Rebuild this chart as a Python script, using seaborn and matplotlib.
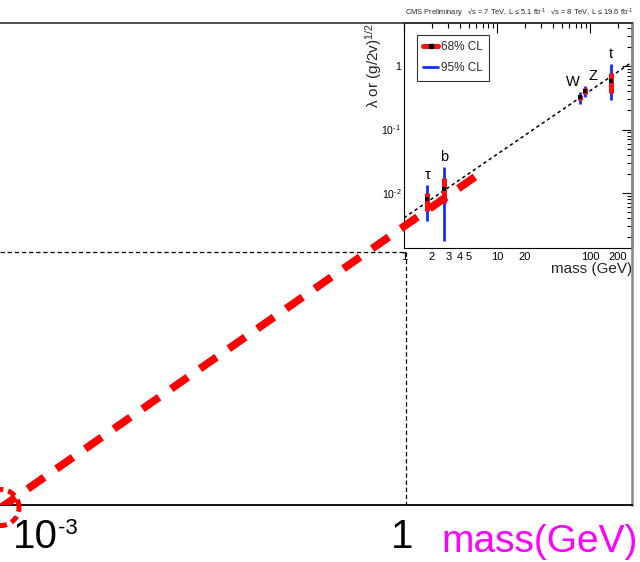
import numpy as np
import matplotlib
matplotlib.use("Agg")
import matplotlib.pyplot as plt
from matplotlib.lines import Line2D
from matplotlib.ticker import FixedLocator, FixedFormatter, FuncFormatter, NullLocator
import seaborn as sns

# ---- data -------------------------------------------------------------
VEV = 246.0  # GeV, coupling line lambda = m / v

particles = ["τ", "b", "W", "Z", "t"]
masses = [1.777, 2.69, 78.0, 88.0, 168.0]
central = [8.0e-3, 1.16e-2, 0.325, 0.40, 0.58]
cl68_lo = [5.2e-3, 7.0e-3, 0.29, 0.36, 0.376]
cl68_hi = [1.0e-2, 1.72e-2, 0.35, 0.45, 0.776]
cl95_lo = [3.6e-3, 1.75e-3, 0.252, 0.325, 0.29]
cl95_hi = [1.34e-2, 2.57e-2, 0.39, 0.48, 1.07]
label_dx = [0, 0, -5, 6, 0]          # label offsets (points)

extrap_mass = [1e-4, 4.4]            # extrapolated coupling line, GeV
circled_mass = 3.95e-4               # GeV
corner = (1.0, 1.92e-3)              # guide-line corner (mass, coupling)

main_ticks = [1e-3, 1.0]
main_tick_base = ["10", "1"]
main_tick_exp = ["-3", ""]

inset_major_x = [1, 10, 100]
inset_minor_x = [2, 3, 4, 5, 6, 7, 8, 9, 20, 30, 40, 50, 60, 70, 80, 90, 200]
inset_minor_x_labels = {2: "2", 3: "3", 4: "4", 5: "5", 20: "20", 200: "200"}
inset_major_y = [1e-2, 1e-1, 1.0]
inset_major_y_labels = [r"$10^{\text{-2}}$", r"$10^{\text{-1}}$", "1"]

# ---- style ------------------------------------------------------------
sns.set_theme(style="white")
plt.rcParams["font.family"] = ["Liberation Sans", "DejaVu Sans"]
plt.rcParams["mathtext.fontset"] = "custom"
plt.rcParams["mathtext.rm"] = "Liberation Sans"
plt.rcParams["mathtext.it"] = "Liberation Sans:italic"
plt.rcParams["mathtext.default"] = "regular"

W, H = 640, 562
fig = plt.figure(figsize=(W / 100, H / 100), dpi=100)
fig.patch.set_facecolor("white")


def box(l, t, r, b):
    return [l / W, 1 - b / H, (r - l) / W, (b - t) / H]


# ---- inset: CMS coupling measurements ---------------------------------
axi = fig.add_axes(box(404, 23, 632, 248), zorder=2)
axi.set_facecolor("white")
axi.set_xscale("log")
axi.set_yscale("log")
axi.set_xlim(1.0, 10 ** (228 / 93))
axi.set_ylim(10 ** (-182 / 63.5), 10 ** (43 / 63.5))

xl = np.array(axi.get_xlim())
sns.lineplot(x=xl, y=xl / VEV, ax=axi, color="black", lw=1.1, zorder=2)
axi.lines[-1].set_dashes((2.2, 2.0))

axi.vlines(masses, cl95_lo, cl95_hi, color="#1030ff", lw=2.0, zorder=3)
axi.vlines(masses, cl68_lo, cl68_hi, color="#ff1010", lw=3.6, zorder=4)
sns.scatterplot(x=masses, y=central, ax=axi, marker="s", color="black",
                s=10, linewidth=0, zorder=5)

for name, m, hi, dx in zip(particles, masses, cl95_hi, label_dx):
    axi.annotate(name, (m, hi), xytext=(dx, 2), textcoords="offset points",
                 ha="center", va="bottom", fontsize=10.5, color="black")

axi.xaxis.set_major_locator(FixedLocator(inset_major_x))
axi.xaxis.set_major_formatter(FixedFormatter([str(v) for v in inset_major_x]))
axi.xaxis.set_minor_locator(FixedLocator(inset_minor_x))
axi.xaxis.set_minor_formatter(
    FuncFormatter(lambda v, p: inset_minor_x_labels.get(int(round(v)), "")))

ymin_minor = []
for dec in [1e-3, 1e-2, 1e-1, 1.0]:
    ymin_minor += [k * dec for k in range(2, 10)]
axi.yaxis.set_major_locator(FixedLocator(inset_major_y))
axi.yaxis.set_major_formatter(FixedFormatter(inset_major_y_labels))
axi.yaxis.set_minor_locator(FixedLocator(ymin_minor))
axi.yaxis.set_minor_formatter(FuncFormatter(lambda v, p: ""))

axi.tick_params(which="both", direction="in", top=True, right=True,
                labelsize=8, colors="black", width=0.8, pad=3)
axi.tick_params(axis="y", labelsize=7.5, pad=2)
axi.tick_params(which="major", length=7)
axi.tick_params(which="minor", length=3.5)

for s in ["left", "bottom"]:
    axi.spines[s].set_color("black")
    axi.spines[s].set_linewidth(0.8)
axi.spines["top"].set_color("#333333")
axi.spines["right"].set_color("#888888")
axi.spines["right"].set_linewidth(1.8)

axi.set_xlabel("mass (GeV)", fontsize=11, loc="right", labelpad=0)
axi.set_ylabel("λ or (g/2v)$^{1/2}$", fontsize=11, loc="top", labelpad=-2)

axi.text(0.003, 1.012,
         r"CMS Preliminary   √s = 7 TeV, L ≤ 5.1 fb$^{\text{-1}}$   √s = 8 TeV, L ≤ 19.6 fb$^{\text{-1}}$",
         transform=axi.transAxes, fontsize=5.4, ha="left", va="bottom")

handles = [
    Line2D([0], [0], color="#ff1010", lw=3.6, marker="s", ms=3.2,
           mfc="black", mec="black"),
    Line2D([0], [0], color="#1030ff", lw=2.0),
]
leg = axi.legend(handles, ["68% CL", "95% CL"], loc="upper left",
                 bbox_to_anchor=(0.057, 0.947), borderaxespad=0,
                 fontsize=8.5, handlelength=1.2, handletextpad=0.3,
                 fancybox=False, frameon=True, borderpad=0.55,
                 labelspacing=0.75)
leg.get_frame().set_edgecolor("black")
leg.get_frame().set_linewidth(0.8)

# ---- main axes: extrapolation to low mass -----------------------------
ax = fig.add_axes(box(0, 23, 632, 505), zorder=3)
ax.set_facecolor("none")
ax.set_xscale("log")
ax.set_yscale("log")
ax.set_xlim(10 ** (-406 / 119), 10 ** (226 / 119))
ax.set_ylim(10 ** -5.764, 10 ** 0.043)

xmin, xmax = ax.get_xlim()
ymin, ymax = ax.get_ylim()

# guide lines down to the axes from the inset corner
ax.plot([xmin, corner[0]], [corner[1], corner[1]], color="black", lw=0.9,
        dashes=(3.5, 2.2))
ax.plot([corner[0], corner[0]], [corner[1], ymin], color="black", lw=0.9,
        dashes=(3.5, 2.2))

em = np.array(extrap_mass)
sns.lineplot(x=em, y=em / VEV, ax=ax, color="#ff0000", lw=5.6, zorder=6)
ax.lines[-1].set_dashes((2.6, 1.9))

# dotted ring around the circled point
t = np.linspace(0, 2 * np.pi, 300)
lx = np.log10(circled_mass) + (18 / 119) * np.cos(t)
ly = np.log10(circled_mass / VEV) + (18 / 83) * np.sin(t)
ax.plot(10 ** lx, 10 ** ly, color="#ff0000", lw=3.6, dashes=(1.6, 1.0),
        clip_on=False, zorder=6)

# axis numbers: base with a small raised exponent
ax.set_xticks(main_ticks)
ax.set_xticklabels([])
ax.xaxis.set_minor_locator(NullLocator())
ax.set_yticks([])
ax.yaxis.set_minor_locator(NullLocator())
ax.tick_params(axis="x", length=0)
for m, base, ex in zip(main_ticks, main_tick_base, main_tick_exp):
    if ex:
        ax.annotate(base, (m, 0), xycoords=("data", "axes fraction"),
                    xytext=(6.3, -9), textcoords="offset points",
                    ha="right", va="top", fontsize=29, color="black")
        ax.annotate(ex, (m, 0), xycoords=("data", "axes fraction"),
                    xytext=(6.3, -9.5), textcoords="offset points",
                    ha="left", va="top", fontsize=16, color="black")
    else:
        ax.annotate(base, (m, 0), xycoords=("data", "axes fraction"),
                    xytext=(-3, -9), textcoords="offset points",
                    ha="center", va="top", fontsize=29, color="black")

ax.spines["left"].set_visible(False)
ax.spines["top"].set_color("#333333")
ax.spines["top"].set_linewidth(1.2)
ax.spines["right"].set_color("#888888")
ax.spines["right"].set_linewidth(1.8)
ax.spines["bottom"].set_color("black")
ax.spines["bottom"].set_linewidth(1.3)

fig.text(638 / W, 1 - 552 / H, "mass(GeV)", color="#ff00ff", fontsize=28,
         ha="right", va="baseline")

fig.savefig("out.png", dpi=100, facecolor="white")
